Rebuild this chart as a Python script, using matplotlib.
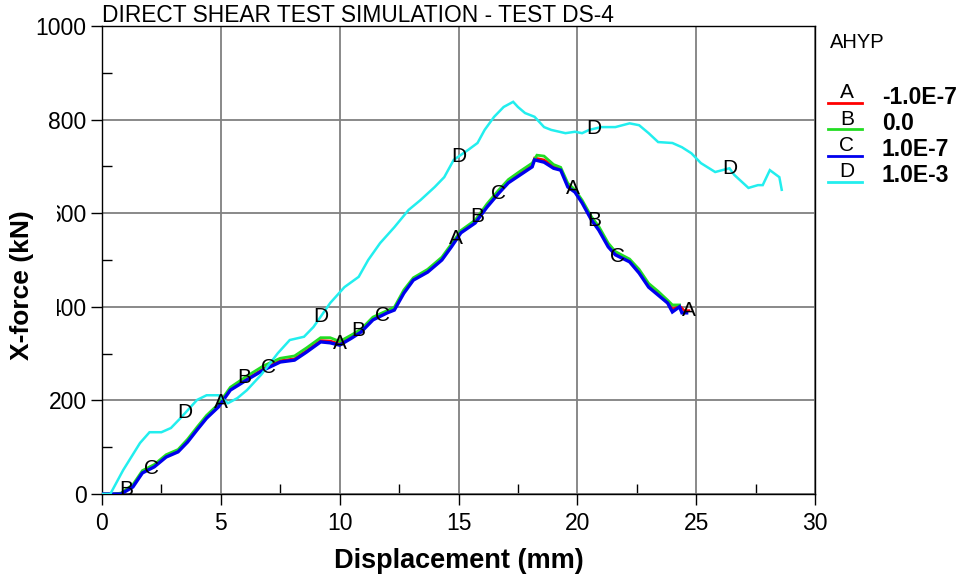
import matplotlib
matplotlib.use('Agg')
import matplotlib.pyplot as plt
import numpy as np
from matplotlib.lines import Line2D
from matplotlib.patches import Rectangle
from matplotlib.ticker import MultipleLocator

plt.rcParams['font.family'] = ['Liberation Sans', 'DejaVu Sans']

# ---------------- data ----------------
title = "DIRECT SHEAR TEST SIMULATION - TEST DS-4"
xlabel = "Displacement (mm)"
ylabel = "X-force (kN)"
legend_title = "AHYP"
series_letters = ["A", "B", "C", "D"]
series_values = ["-1.0E-7", "0.0", "1.0E-7", "1.0E-3"]

# series A (AHYP = -1.0E-7)
xA = [0, 0.5, 0.8, 1.3, 1.7, 2.2, 2.7, 3.2, 3.6, 4.0, 4.4, 4.9, 5.4, 6.1, 6.8, 7.5, 8.1, 8.6,
      9.2, 9.6, 10.0, 10.5, 10.9, 11.4, 12.0, 12.3, 12.7, 13.1, 13.7, 14.3, 14.7, 15.1, 15.7,
      16.2, 16.7, 17.1, 17.6, 18.1, 18.2, 18.6, 19.0, 19.3, 19.6, 19.9, 20.2, 20.6, 20.9,
      21.3, 21.6, 22.2, 22.6, 23.0, 23.4, 23.8, 24.0, 24.3, 24.5, 24.7]
yA = [0, 0, 1, 17, 47, 60, 81, 92, 113, 139, 164, 188, 224, 246, 268, 285, 289, 306,
      328, 327, 321, 336, 349, 375, 389, 396, 432, 459, 477, 503, 531, 560, 582,
      616, 646, 668, 685, 703, 718, 714, 700, 695, 660, 648, 625, 589, 567, 531,
      514, 499, 475, 445, 428, 411, 395, 402, 392, 392]

# series B (AHYP = 0.0)
xB = [0, 0.5, 0.8, 1.3, 1.7, 2.2, 2.7, 3.2, 3.6, 4.0, 4.4, 4.9, 5.4, 6.1, 6.8, 7.5, 8.1, 8.6,
      9.2, 9.6, 10.0, 10.5, 10.9, 11.4, 12.0, 12.3, 12.7, 13.1, 13.7, 14.3, 14.7, 15.1, 15.7,
      16.2, 16.7, 17.1, 17.6, 18.1, 18.3, 18.6, 19.0, 19.3, 19.6, 19.9, 20.2, 20.6, 20.9,
      21.3, 21.6, 22.2, 22.6, 23.0, 23.4, 23.8, 24.0, 24.3]
yB = [0, 0, 2, 20, 50, 63, 84, 95, 117, 143, 168, 192, 228, 252, 274, 290, 295, 312,
      334, 334, 326, 340, 352, 378, 392, 399, 436, 462, 480, 506, 534, 563, 585,
      620, 650, 672, 690, 707, 724, 722, 704, 698, 664, 650, 628, 592, 572, 536,
      518, 502, 480, 450, 433, 414, 404, 404]

# series C (AHYP = 1.0E-7)
xC = [0, 0.5, 0.8, 1.3, 1.7, 2.2, 2.7, 3.2, 3.6, 4.0, 4.4, 4.9, 5.4, 6.1, 6.8, 7.5, 8.1, 8.6,
      9.2, 9.6, 10.0, 10.5, 10.9, 11.4, 12.0, 12.3, 12.7, 13.1, 13.7, 14.3, 14.7, 15.1, 15.7,
      16.2, 16.7, 17.1, 17.6, 18.1, 18.2, 18.6, 19.0, 19.3, 19.6, 19.9, 20.2, 20.6, 20.9,
      21.3, 21.6, 22.2, 22.6, 23.0, 23.4, 23.8, 24.0, 24.3, 24.4, 24.6]
yC = [0, 0, 0, 15, 45, 58, 79, 90, 111, 137, 162, 186, 222, 244, 265, 282, 286, 303,
      325, 323, 318, 333, 346, 372, 387, 393, 429, 457, 474, 500, 528, 558, 579,
      613, 643, 665, 682, 699, 714, 709, 696, 692, 656, 645, 622, 585, 564, 528,
      511, 496, 472, 442, 425, 408, 389, 400, 387, 387]

# series D (AHYP = 1.0E-3)
xD = [0, 0.35, 0.89, 1.6, 2.0, 2.5, 2.9, 3.3, 4.0, 4.4, 4.9, 5.3, 5.7, 6.1, 6.7, 7.4, 7.9,
      8.5, 8.9, 9.6, 10.2, 10.8, 11.2, 11.7, 12.3, 12.9, 13.4, 14.0, 14.4, 14.8, 15.4, 15.8,
      16.1, 16.5, 16.9, 17.3, 17.5, 17.8, 18.2, 18.6, 18.9, 19.5, 19.9, 20.2, 20.5, 21.0,
      21.6, 22.2, 22.6, 23.0, 23.4, 24.0, 24.4, 24.8, 25.2, 25.8, 26.4, 26.6, 27.2, 27.6,
      27.8, 28.1, 28.5, 28.6]
yD = [0, 0, 51, 109, 132, 132, 141, 162, 201, 211, 211, 194, 205, 222, 255, 301, 329,
      336, 357, 408, 442, 464, 500, 536, 570, 607, 628, 656, 677, 714, 735, 750,
      778, 806, 827, 838, 827, 814, 806, 784, 778, 771, 774, 771, 778, 784,
      784, 792, 788, 771, 752, 750, 741, 728, 707, 688, 696, 682, 654, 660,
      660, 692, 677, 650]

# positions (displacement) of the identifying letters along each curve
label_xA = [5.0, 10.0, 14.9, 19.8, 24.7]
label_xB = [1.0, 6.0, 10.8, 15.8, 20.7]
label_xC = [2.1, 7.0, 11.8, 16.7, 21.7]
label_xD = [3.5, 9.2, 15.0, 20.7, 26.4]

xticks = [0, 5, 10, 15, 20, 25, 30]
yticks = [0, 200, 400, 600, 800, 1000]

# ---------------- style ----------------
colors = ["#ff0000", "#22dd22", "#0000ee", "#22eeee"]
widths = [1.8, 2.0, 2.4, 1.8]

W, H = 962, 581
fig = plt.figure(figsize=(W / 100, H / 100), dpi=100)
ax = fig.add_axes([102 / W, 1 - 494 / H, 713 / W, 468 / H])

series = [(xA, yA, label_xA), (xB, yB, label_xB), (xC, yC, label_xC), (xD, yD, label_xD)]
for (xs, ys, lx), c, lw in zip(series, colors, widths):
    ax.plot(xs, ys, color=c, lw=lw, zorder=3, solid_joinstyle='miter')
for (xs, ys, lx), letter in zip(series, series_letters):
    ly = np.interp(lx, xs, ys)
    for px, py in zip(lx, ly):
        ax.text(px, py, letter, ha='center', va='center', fontsize=15, zorder=5)

ax.set_xlim(0, 30)
ax.set_ylim(0, 1000)
ax.set_xticks(xticks)
ax.set_yticks(yticks)
ax.xaxis.set_minor_locator(MultipleLocator(2.5))
ax.yaxis.set_minor_locator(MultipleLocator(100))
ax.tick_params(which='major', direction='out', length=8, width=1, labelsize=16.5)
ax.tick_params(axis='x', which='major', pad=5)
ax.tick_params(axis='y', which='major', pad=3)
ax.tick_params(which='minor', direction='in', length=7, width=1)
ax.grid(which='major', color='#808080', lw=1.3)
ax.set_axisbelow(True)
for s in ax.spines.values():
    s.set_linewidth(1.0)
    s.set_color('black')

fig.text(102 / W, 1 - 15 / H, title, ha='left', va='center', fontsize=16.4)
fig.text(459 / W, 1 - 561 / H, xlabel, ha='center', va='center', fontsize=19.5, fontweight='bold')
fig.patches.append(Rectangle((0, 1 - 365 / H), 57 / W, 160 / H, transform=fig.transFigure,
                             facecolor='white', edgecolor='none', zorder=5))
fig.text(22 / W, 1 - 285 / H, ylabel, rotation=90, ha='center', va='center',
         fontsize=19, fontweight='bold', zorder=6)

# legend
fig.text(830 / W, 1 - 43 / H, legend_title, ha='left', va='center', fontsize=14.5)
for i, (letter, val, c) in enumerate(zip(series_letters, series_values, colors)):
    yl = 103 + 26.3 * i
    fig.add_artist(Line2D([828 / W, 862 / W], [1 - yl / H] * 2, transform=fig.transFigure,
                          color=c, lw=2))
    fig.text(847 / W, 1 - (yl - 0.5) / H, letter, ha='center', va='bottom', fontsize=15)
    fig.text(882 / W, 1 - (yl - 6) / H, val, ha='left', va='center', fontsize=16.5,
             fontweight='bold')

fig.savefig('out.png', dpi=100)
